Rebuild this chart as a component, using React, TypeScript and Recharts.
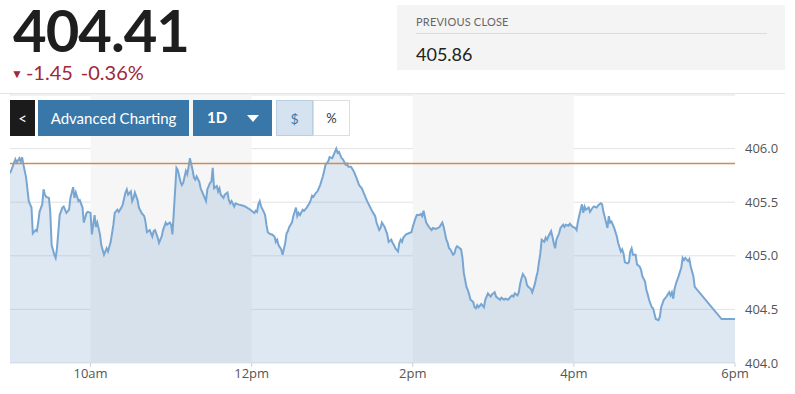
import {
  ComposedChart,
  Area,
  XAxis,
  YAxis,
  CartesianGrid,
  ReferenceArea,
  ReferenceLine,
} from 'recharts';

// minutes since midnight
const times = [
  540, 541, 544, 545, 547, 548, 549, 550, 552, 554, 555, 556, 557, 559, 560, 561, 562, 564, 565, 566,
  567, 569, 570, 571, 573, 574, 575, 577, 579, 580, 582, 584, 585, 587, 588, 589, 591, 592, 594, 595,
  597, 598, 600, 601, 603, 604, 605, 607, 608, 610, 612, 613, 615, 617, 618, 620, 621, 623, 624, 626,
  627, 628, 630, 631, 632, 633, 635, 636, 638, 640, 641, 642, 644, 646, 647, 648, 650, 651, 652, 653,
  654, 656, 657, 659, 660, 661, 662, 664, 665, 667, 668, 669, 671, 672, 673, 674, 676, 677, 678, 679,
  681, 682, 684, 686, 687, 688, 689, 690, 691, 692, 694, 695, 696, 697, 699, 700, 702, 703, 704, 705,
  707, 708, 710, 713, 715, 719, 722, 723, 724, 725, 726, 727, 729, 730, 731, 732, 734, 735, 737, 738,
  739, 740, 742, 743, 745, 746, 747, 748, 750, 751, 753, 754, 755, 756, 758, 759, 761, 763, 764, 765,
  766, 768, 769, 771, 773, 774, 775, 777, 778, 780, 781, 782, 783, 784, 785, 787, 788, 790, 791, 792,
  794, 796, 798, 800, 802, 804, 806, 808, 810, 812, 813, 815, 816, 817, 819, 821, 822, 824, 825, 826,
  827, 829, 830, 831, 832, 833, 835, 837, 839, 840, 842, 843, 845, 846, 847, 848, 850, 851, 852, 854,
  855, 857, 859, 860, 862, 863, 865, 866, 867, 868, 870, 871, 872, 873, 875, 876, 877, 878, 880, 881,
  882, 883, 885, 886, 887, 888, 889, 891, 893, 894, 896, 898, 899, 901, 902, 904, 905, 906, 908, 909,
  911, 913, 914, 915, 916, 918, 919, 920, 921, 922, 924, 925, 926, 928, 929, 931, 932, 933, 934, 935,
  936, 938, 939, 940, 941, 943, 944, 945, 946, 947, 949, 950, 952, 953, 954, 956, 957, 959, 961, 962,
  963, 965, 966, 967, 968, 969, 971, 972, 974, 975, 977, 978, 980, 981, 982, 984, 985, 986, 987, 988,
  990, 992, 993, 995, 996, 997, 998, 1000, 1001, 1002, 1003, 1004, 1006, 1007, 1009, 1010, 1011, 1013, 1014, 1015,
  1016, 1018, 1019, 1020, 1021, 1023, 1024, 1025, 1027, 1029, 1030, 1031, 1032, 1033, 1034, 1035, 1036, 1038, 1040, 1041,
  1042, 1043, 1045, 1046, 1047, 1049, 1050, 1070, 1080,
];

const prices = [
  405.77, 405.8, 405.9, 405.87, 405.91, 405.88, 405.92, 405.85, 405.73, 405.51, 405.48, 405.45, 405.21, 405.24, 405.23, 405.31, 405.41, 405.48, 405.62, 405.57,
  405.55, 405.54, 405.41, 405.1, 405.01, 404.98, 405.07, 405.38, 405.45, 405.46, 405.4, 405.43, 405.54, 405.64, 405.54, 405.59, 405.51, 405.52, 405.45, 405.31,
  405.4, 405.41, 405.4, 405.2, 405.38, 405.27, 405.31, 405.2, 405.1, 405.01, 405.07, 405.04, 405.13, 405.29, 405.4, 405.43, 405.41, 405.45, 405.48, 405.59,
  405.62, 405.57, 405.6, 405.51, 405.54, 405.59, 405.52, 405.45, 405.4, 405.37, 405.31, 405.22, 405.24, 405.18, 405.23, 405.24, 405.17, 405.12, 405.15, 405.18,
  405.24, 405.31, 405.29, 405.31, 405.29, 405.2, 405.41, 405.82, 405.8, 405.69, 405.66, 405.68, 405.79, 405.76, 405.83, 405.91, 405.8, 405.73, 405.71, 405.74,
  405.69, 405.63, 405.57, 405.51, 405.62, 405.65, 405.68, 405.69, 405.82, 405.63, 405.65, 405.6, 405.63, 405.57, 405.54, 405.57, 405.59, 405.52, 405.49, 405.51,
  405.46, 405.49, 405.48, 405.47, 405.46, 405.43, 405.4, 405.42, 405.41, 405.48, 405.51, 405.46, 405.41, 405.38, 405.29, 405.22, 405.2, 405.2, 405.18, 405.13,
  405.15, 405.1, 405.06, 405.01, 405.12, 405.21, 405.23, 405.27, 405.31, 405.37, 405.45, 405.37, 405.4, 405.38, 405.43, 405.42, 405.45, 405.49, 405.52, 405.56,
  405.55, 405.59, 405.6, 405.66, 405.74, 405.79, 405.85, 405.88, 405.92, 405.91, 405.94, 405.97, 406.0, 405.96, 405.97, 405.91, 405.9, 405.85, 405.86, 405.83,
  405.83, 405.79, 405.73, 405.66, 405.63, 405.57, 405.51, 405.46, 405.41, 405.37, 405.31, 405.24, 405.26, 405.31, 405.27, 405.2, 405.13, 405.15, 405.12, 405.1,
  405.07, 405.04, 405.12, 405.15, 405.13, 405.17, 405.2, 405.21, 405.22, 405.27, 405.35, 405.38, 405.38, 405.39, 405.37, 405.42, 405.31, 405.29, 405.27, 405.24,
  405.26, 405.25, 405.26, 405.27, 405.31, 405.27, 405.15, 405.12, 405.07, 405.06, 405.01, 405.02, 405.07, 405.09, 405.07, 405.06, 404.98, 404.84, 404.71, 404.68,
  404.64, 404.59, 404.57, 404.52, 404.51, 404.54, 404.52, 404.55, 404.52, 404.59, 404.65, 404.62, 404.64, 404.66, 404.62, 404.6, 404.59, 404.61, 404.59, 404.6,
  404.59, 404.62, 404.63, 404.62, 404.65, 404.63, 404.66, 404.74, 404.79, 404.83, 404.79, 404.73, 404.71, 404.69, 404.66, 404.74, 404.8, 404.85, 404.94, 405.02,
  405.15, 405.13, 405.17, 405.15, 405.18, 405.23, 405.18, 405.12, 405.07, 405.15, 405.21, 405.26, 405.29, 405.27, 405.29, 405.28, 405.3, 405.27, 405.26, 405.24,
  405.32, 405.43, 405.48, 405.4, 405.46, 405.43, 405.45, 405.41, 405.45, 405.46, 405.45, 405.47, 405.49, 405.48, 405.41, 405.31, 405.26, 405.37, 405.31, 405.32,
  405.26, 405.18, 405.12, 405.04, 405.06, 405.02, 404.94, 404.93, 404.94, 405.04, 405.07, 405.01, 405.01, 404.92, 404.9, 404.87, 404.81, 404.76, 404.68, 404.64,
  404.59, 404.52, 404.51, 404.46, 404.41, 404.4, 404.43, 404.52, 404.59, 404.62, 404.64, 404.66, 404.63, 404.66, 404.6, 404.69, 404.74, 404.81, 404.89, 404.98,
  404.96, 404.98, 404.95, 404.97, 404.9, 404.81, 404.71, 404.41, 404.41,
];

const timeTicks = [600, 720, 840, 960, 1080];
const timeLabels = ['10am', '12pm', '2pm', '4pm', '6pm'];
const priceTicks = [404, 404.5, 405, 405.5, 406];

// shaded hour bands (10am-12pm, 2pm-4pm)
const bandStarts = [600, 840];
const bandEnds = [720, 960];

const previousClose = 405.86;
const lastPrice = '404.41';
const change = '-1.45';
const changePct = '-0.36%';

const data = times.map((t, i) => ({ t, price: prices[i] }));

const BLUE = '#3a77a9';

export default function App() {
  return (
    <div style={{ position: 'relative', width: 795, height: 394, background: '#fff', fontFamily: 'Lato, sans-serif', overflow: 'hidden' }}>
      <style>{'body{margin:0}'}</style>

      <div style={{ position: 'absolute', left: 0, top: 0 }}>
        <ComposedChart
          width={795}
          height={394}
          data={data}
          margin={{ top: 95, left: 10, right: 10, bottom: 1 }}
        >
          {bandStarts.map((s, i) => (
            <ReferenceArea
              key={s}
              x1={s}
              x2={bandEnds[i]}
              y1={404}
              y2={406.5}
              fill='#f6f6f6'
              fillOpacity={1}
              stroke='none'
            />
          ))}

          <CartesianGrid vertical={false} stroke='#e3e3e3' />

          <XAxis
            dataKey='t'
            type='number'
            domain={[540, 1080]}
            ticks={timeTicks}
            tickFormatter={(v) => timeLabels[timeTicks.indexOf(v)]}
            axisLine={false}
            tickLine={{ stroke: '#d0d0d0' }}
            tickSize={4}
            height={30}
            tick={{ fontSize: 13, fill: '#555', fontFamily: 'Open Sans' }}
            allowDataOverflow
          />

          <YAxis
            orientation='right'
            domain={[404, 406.5]}
            ticks={priceTicks}
            tickFormatter={(v) => Number(v).toFixed(1)}
            axisLine={false}
            tickLine={false}
            width={50}
            tickMargin={4}
            tick={{ fontSize: 13, fill: '#555', fontFamily: 'Open Sans' }}
            allowDataOverflow
          />

          <Area
            type='linear'
            dataKey='price'
            stroke='#78a6d2'
            strokeWidth={2}
            fill='#7aa4cc'
            fillOpacity={0.25}
            dot={false}
            activeDot={false}
            isAnimationActive={false}
          />

          <ReferenceLine y={previousClose} stroke='#d08b5c' strokeWidth={1.5} />
        </ComposedChart>
      </div>

      {/* quote header */}
      <div style={{ position: 'absolute', left: 13, top: 4, fontSize: 58, lineHeight: '52px', fontWeight: 700, color: '#1e1e1e', letterSpacing: -1 }}>
        {lastPrice}
      </div>
      <div style={{ position: 'absolute', left: 11, top: 62, fontSize: 20, lineHeight: '20px', color: '#a0283a', whiteSpace: 'nowrap' }}>
        <span style={{ fontSize: 12, marginRight: 3, position: 'relative', top: -2 }}>▼</span>
        {change}
        <span style={{ marginLeft: 8 }}>{changePct}</span>
      </div>

      <div style={{ position: 'absolute', left: 397, top: 5, width: 388, height: 65, background: '#f4f4f4' }}>
        <div style={{ position: 'absolute', left: 19, top: 10, fontSize: 11, color: '#666', letterSpacing: 0.2 }}>PREVIOUS CLOSE</div>
        <div style={{ position: 'absolute', left: 19, right: 18, top: 28, borderTop: '1px solid #dcdcdc' }} />
        <div style={{ position: 'absolute', left: 19, top: 38, fontSize: 18, color: '#222' }}>405.86</div>
      </div>

      <div style={{ position: 'absolute', left: 0, top: 93, width: 785, borderTop: '1px solid #e4e4e4' }} />

      {/* toolbar */}
      <div style={{ position: 'absolute', left: 10, top: 100, width: 25, height: 36, background: '#1b1b1b', color: '#fff', fontSize: 15, display: 'flex', alignItems: 'center', justifyContent: 'center' }}>
        &lt;
      </div>
      <div style={{ position: 'absolute', left: 38, top: 100, width: 151, height: 36, background: BLUE, color: '#fff', fontSize: 15, display: 'flex', alignItems: 'center', justifyContent: 'center' }}>
        Advanced Charting
      </div>
      <div style={{ position: 'absolute', left: 193, top: 100, width: 79, height: 36, background: BLUE, color: '#fff', fontSize: 15, fontWeight: 700 }}>
        <span style={{ position: 'absolute', left: 14, top: 8 }}>1D</span>
        <span style={{ position: 'absolute', left: 54, top: 15, width: 0, height: 0, borderLeft: '6px solid transparent', borderRight: '6px solid transparent', borderTop: '7px solid #fff' }} />
      </div>
      <div style={{ position: 'absolute', left: 276, top: 100, width: 35, height: 34, background: '#d4e3ef', border: '1px solid #b9cfe0', color: BLUE, fontSize: 14, display: 'flex', alignItems: 'center', justifyContent: 'center' }}>
        $
      </div>
      <div style={{ position: 'absolute', left: 313, top: 100, width: 35, height: 34, background: '#fff', border: '1px solid #dedede', color: '#333', fontSize: 13, display: 'flex', alignItems: 'center', justifyContent: 'center' }}>
        %
      </div>
    </div>
  );
}
